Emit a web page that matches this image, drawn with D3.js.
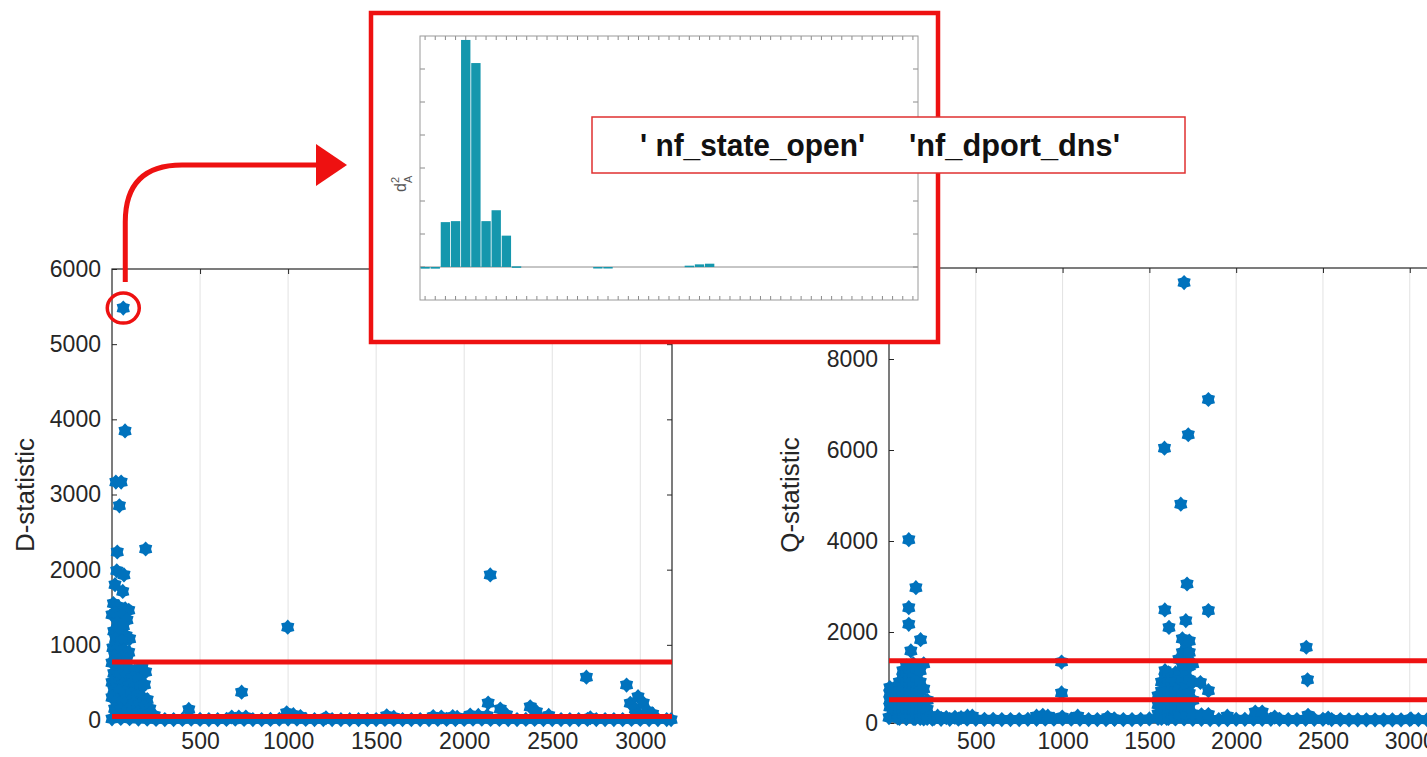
<!DOCTYPE html>
<html>
<head>
<meta charset="utf-8">
<script src="https://cdn.jsdelivr.net/npm/d3@7"></script>
<style>
  body { margin: 0; background: #fff; }
  svg { display: block; font-family: "Liberation Sans", Arial, sans-serif; }
</style>
</head>
<body>
<svg width="1427" height="757"></svg>
<script>
// ---- data ----
var indexMax = 3180;
var xTicks = [500, 1000, 1500, 2000, 2500, 3000];
var dTicksY = [0, 1000, 2000, 3000, 4000, 5000, 6000];
var qTicksY = [0, 2000, 4000, 6000, 8000, 10000];

// thin band of points sitting on the x axis
var bandIndex = [0,50,100,150,200,250,300,350,400,450,500,550,600,650,700,750,800,850,900,950,
  1000,1050,1100,1150,1200,1250,1300,1350,1400,1450,1500,1550,1600,1650,1700,1750,1800,1850,1900,1950,
  2000,2050,2100,2150,2200,2250,2300,2350,2400,2450,2500,2550,2600,2650,2700,2750,2800,2850,2900,2950,
  3000,3050,3100,3150,3175];
var dBand = [15,20,18,12,10,8,6,6,8,10,8,6,6,8,10,8,6,6,8,10,
  12,10,8,6,6,6,5,5,5,6,6,8,8,6,6,6,6,8,8,6,
  8,10,10,8,8,6,6,8,8,6,6,6,6,6,8,6,6,6,6,8,
  8,6,6,6,5];
var qBand = [120,110,100,95,90,85,80,80,85,85,80,80,80,75,75,75,80,80,85,85,
  90,85,80,75,75,75,80,75,75,80,90,100,100,90,90,80,80,75,75,75,
  80,80,85,80,80,80,75,75,80,80,80,75,75,70,70,70,70,70,70,70,
  75,75,70,70,70];

// D-statistic
var dOutliers = [[64,5480],[74,3845],[22,3165],[52,3165],[42,2850],[30,2235],[191,2275],[27,1985],
  [68,1930],[17,1800],[61,1710],[998,1235],[2148,1930],[2694,570],[2922,465],[736,370]];
var dCluster = [[8,1550],[35,1510],[75,1480],[95,1460],[0,1400],[20,1420],[50,1380],[85,1330],[30,1290],
  [65,1250],[10,1180],[45,1150],[80,1120],[100,1080],[20,1080],[55,1050],[5,960],[35,940],[70,930],
  [95,900],[15,850],[50,820],[85,800],[0,760],[30,720],[65,700],[100,680],[130,650],[170,690],[191,640],
  [10,620],[45,600],[80,580],[115,560],[150,540],[0,500],[25,480],[60,470],[95,450],[130,430],[159,445],
  [185,470],[10,400],[40,380],[75,370],[110,350],[145,330],[175,300],[200,270],[0,300],[30,260],[60,250],
  [95,240],[125,220],[155,200],[185,180],[215,150],[15,150],[50,140],[85,130],[120,110],[150,100],
  [180,90],[210,80],[240,60]];
var dSmall = [[436,140],[680,40],[720,40],[760,40],[992,95],[1030,70],[1070,45],[1215,30],[1560,55],
  [1600,35],[1824,45],[1870,40],[1935,45],[1960,35],[2034,65],[2080,60],[2130,55],[2136,225],[2205,145],
  [2240,70],[2375,175],[2410,110],[2480,60],[2716,30],[2943,222],[2987,310],[2972,145],[3017,225],
  [2990,80],[3040,120],[3070,80]];
var dLimits = [770, 45];

// Q-statistic
var qOutliers = [[1700,9680],[1840,7110],[1724,6335],[1587,6040],[1681,4810],[114,4030],[155,2975],
  [1717,3055],[114,2535],[1589,2485],[1840,2470],[114,2170],[1710,2250],[1613,2100],[182,1830],
  [2404,1665],[126,1585],[994,1340],[2411,950],[1794,890],[1840,710],[994,660]];
var qCluster = [[5,350],[5,500],[5,650],[5,780],[25,300],[25,450],[25,600],[25,750],[45,380],[45,550],[45,700],
  [60,100],[60,300],[60,500],[60,700],[60,900],
  [80,200],[80,400],[80,600],[80,800],[80,1000],[80,1150],
  [100,100],[100,300],[100,500],[100,700],[100,900],[100,1100],[100,1250],
  [120,200],[120,400],[120,600],[120,800],[120,1000],[120,1200],
  [140,100],[140,300],[140,500],[140,700],[140,900],[140,1100],[140,1300],
  [160,200],[160,400],[160,600],[160,800],[160,1000],[160,1200],
  [180,100],[180,300],[180,500],[180,700],[180,900],[180,1150],
  [200,200],[200,400],[200,750],[200,1300],
  [220,100],[220,300],[220,500],
  [240,150],[260,100],[280,150],[300,100],[330,120],
  [1550,200],[1550,400],[1550,600],
  [1570,100],[1570,300],[1570,500],[1570,700],[1570,900],
  [1590,200],[1590,400],[1590,600],[1590,800],[1590,1000],[1590,1150],
  [1610,100],[1610,300],[1610,500],[1610,700],[1610,900],[1610,1100],
  [1630,200],[1630,400],[1630,600],[1630,800],[1630,1000],
  [1650,100],[1650,300],[1650,500],[1650,700],[1650,900],[1650,1100],
  [1670,200],[1670,500],[1670,800],[1670,1100],[1670,1400],
  [1690,350],[1690,650],[1690,950],[1690,1250],[1690,1550],[1690,1850],
  [1710,200],[1710,500],[1710,800],[1710,1100],[1710,1400],[1710,1700],
  [1730,350],[1730,650],[1730,950],[1730,1250],[1730,1550],[1730,1800],
  [1750,200],[1750,500],[1750,900],[1750,1300]];
var qSmall = [[380,125],[415,120],[452,150],[480,150],[850,150],[886,170],[915,150],[998,130],[1087,150],
  [1260,120],[1297,90],[1800,180],[1840,185],[1949,150],[2110,240],[2150,240],[2222,130],[2414,170],
  [2530,110],[3007,90]];
var qLimits = [1370, 510];

// inset: contribution bars per variable
var barValues = [-0.05,-0.05,1.36,1.39,6.88,6.18,1.39,1.72,0.95,0.02,
  0,0,0,0,0,0,0,-0.04,-0.04,0,
  0,0,0,0,0,0,0.04,0.08,0.1,0,
  0,0,0,0,0,0,0,0,0,0,
  0,0,0,0,0,0,0,0,0];
var legendNames = ["' nf_state_open'", "'nf_dport_dns'"];

var svg = d3.select('svg');
var blue = '#0072BD';
var red = '#ee1111';
var axisCol = '#262626';

// filled hexagram marker
var hexagram = {
  draw: function(ctx, size) {
    var r = Math.sqrt(size);
    for (var i = 0; i < 12; i++) {
      var a = i * Math.PI / 6 - Math.PI / 2;
      var rr = i % 2 ? r * 0.72 : r;
      if (i === 0) ctx.moveTo(rr * Math.cos(a), rr * Math.sin(a));
      else ctx.lineTo(rr * Math.cos(a), rr * Math.sin(a));
    }
    ctx.closePath();
  }
};
var marker = d3.symbol().type(hexagram).size(58);

function drawPanel(opt) {
  var x = d3.scaleLinear().domain([0, indexMax]).range(opt.xRange);
  var y = d3.scaleLinear().domain(opt.yDomain).range(opt.yRange);
  var g = svg.append('g');
  var x0 = opt.xRange[0], x1 = opt.xRange[1], yb = opt.yRange[0], yt = opt.yRange[1];

  g.selectAll('.grid').data(xTicks).enter().append('line')
    .attr('x1', d => x(d)).attr('x2', d => x(d))
    .attr('y1', yb).attr('y2', yt)
    .attr('stroke', '#e2e2e2');

  var fmt = d3.format('d');
  var ax = g.append('g').attr('transform', 'translate(0,' + yb + ')')
    .call(d3.axisBottom(x).tickValues(xTicks).tickFormat(fmt).tickSize(-5).tickSizeOuter(0).tickPadding(opt.xPad));
  var axT = g.append('g').attr('transform', 'translate(0,' + yt + ')')
    .call(d3.axisTop(x).tickValues(xTicks).tickSize(-5).tickSizeOuter(0).tickFormat(''));
  var ay = g.append('g').attr('transform', 'translate(' + x0 + ',0)')
    .call(d3.axisLeft(y).tickValues(opt.yTicks).tickFormat(fmt).tickSize(-5).tickSizeOuter(0).tickPadding(11));
  var ayR = g.append('g').attr('transform', 'translate(' + x1 + ',0)')
    .call(d3.axisRight(y).tickValues(opt.yTicks).tickSize(-5).tickSizeOuter(0).tickFormat(''));
  [ax, axT, ay, ayR].forEach(function(a) {
    a.select('.domain').remove();
    a.selectAll('line').attr('stroke', axisCol);
    a.selectAll('text').attr('fill', axisCol).attr('font-size', 23)
      .attr('font-family', '"Liberation Sans", Arial, sans-serif');
  });

  g.append('rect')
    .attr('x', x0).attr('y', yt)
    .attr('width', x1 - x0).attr('height', yb - yt)
    .attr('fill', 'none').attr('stroke', axisCol).attr('stroke-width', 1.2);

  var pts = opt.band.map((v, i) => [bandIndex[i], v]).concat(opt.cluster, opt.small, opt.outliers);
  g.selectAll('.pt').data(pts).enter().append('path')
    .attr('class', 'pt')
    .attr('d', marker)
    .attr('transform', d => 'translate(' + x(d[0]) + ',' + y(d[1]) + ')')
    .attr('fill', blue);

  g.selectAll('.lim').data(opt.limits).enter().append('line')
    .attr('x1', x0).attr('x2', x1)
    .attr('y1', d => y(d)).attr('y2', d => y(d))
    .attr('stroke', red).attr('stroke-width', 5);

  g.append('text')
    .attr('transform', 'translate(' + opt.labelX + ',495)rotate(-90)')
    .attr('text-anchor', 'middle')
    .attr('font-size', 26)
    .attr('fill', axisCol)
    .text(opt.label);

  return { x: x, y: y };
}

var left = drawPanel({
  xRange: [112, 672], yDomain: [0, 6000], yRange: [720, 269], yTicks: dTicksY, xPad: 13,
  band: dBand, cluster: dCluster, small: dSmall, outliers: dOutliers, limits: dLimits,
  label: 'D-statistic', labelX: 34
});

var right = drawPanel({
  xRange: [889, 1441], yDomain: [0, 10000], yRange: [723, 268], yTicks: qTicksY, xPad: 10,
  band: qBand, cluster: qCluster, small: qSmall, outliers: qOutliers, limits: qLimits,
  label: 'Q-statistic', labelX: 799
});

// ---- inset with the variable contributions ----
var ins = svg.append('g');
ins.append('rect')
  .attr('x', 371).attr('y', 13).attr('width', 567).attr('height', 329)
  .attr('fill', '#fff').attr('stroke', red).attr('stroke-width', 4.5);

var bx = d3.scaleLinear().domain([0.5, barValues.length + 0.5]).range([420, 918]);
var by = d3.scaleLinear().domain([-1, 7]).range([300, 36]);
var bw = (bx(2) - bx(1)) * 0.92;
var barIdx = d3.range(1, barValues.length + 1);

ins.selectAll('.xt').data(barIdx).enter().append('path')
  .attr('d', d => 'M' + bx(d) + ',36v4M' + bx(d) + ',300v-4')
  .attr('stroke', '#8a8a8a');
ins.selectAll('.yt').data([0, 1, 2, 3, 4, 5, 6]).enter().append('path')
  .attr('d', d => 'M420,' + by(d) + 'h5M918,' + by(d) + 'h-5')
  .attr('stroke', '#8a8a8a');

ins.append('line')
  .attr('x1', 420).attr('x2', 918).attr('y1', by(0)).attr('y2', by(0))
  .attr('stroke', '#8c8c8c');
ins.selectAll('.bar').data(barValues.map((v, i) => [i + 1, v]).filter(d => d[1] !== 0))
  .enter().append('rect')
  .attr('x', d => bx(d[0]) - bw / 2)
  .attr('y', d => Math.min(by(d[1]), by(0)))
  .attr('width', bw)
  .attr('height', d => Math.max(1.5, Math.abs(by(d[1]) - by(0))))
  .attr('fill', '#1597ad');
ins.append('rect')
  .attr('x', 420).attr('y', 36).attr('width', 498).attr('height', 264)
  .attr('fill', 'none').attr('stroke', '#9a9a9a');

var lab = ins.append('text')
  .attr('transform', 'translate(406,192)rotate(-90)')
  .attr('fill', '#555').attr('font-size', 16);
lab.append('tspan').text('d');
lab.append('tspan').attr('font-size', 11).attr('dy', -7).text('2');
lab.append('tspan').attr('font-size', 11).attr('dx', -6).attr('dy', 13).text('A');

// ---- legend with the variable names ----
var leg = svg.append('g');
leg.append('rect')
  .attr('x', 592).attr('y', 117).attr('width', 593).attr('height', 56)
  .attr('fill', '#fff').attr('stroke', '#e03030').attr('stroke-width', 1.5);
leg.selectAll('text').data(legendNames).enter().append('text')
  .attr('x', (d, i) => i ? 909 : 640)
  .attr('y', 156)
  .attr('font-size', 31)
  .attr('font-weight', 'bold')
  .attr('fill', '#111')
  .attr('textLength', (d, i) => i ? 211 : 225)
  .attr('lengthAdjust', 'spacingAndGlyphs')
  .text(d => d);

// ---- arrow from the circled observation to the inset ----
var cx = left.x(dOutliers[0][0]), cy = left.y(dOutliers[0][1]);
svg.append('ellipse')
  .attr('cx', cx).attr('cy', cy).attr('rx', 16).attr('ry', 15)
  .attr('fill', 'none').attr('stroke', red).attr('stroke-width', 3.5);
svg.append('path')
  .attr('d', 'M' + (cx + 2) + ',' + (cy - 26) + 'L' + (cx + 2) + ',222Q' + (cx + 2) + ',165 182,165L318,165')
  .attr('fill', 'none').attr('stroke', red).attr('stroke-width', 5);
svg.append('path')
  .attr('d', 'M316,144L347,165L316,186Z')
  .attr('fill', red);
</script>
</body>
</html>
